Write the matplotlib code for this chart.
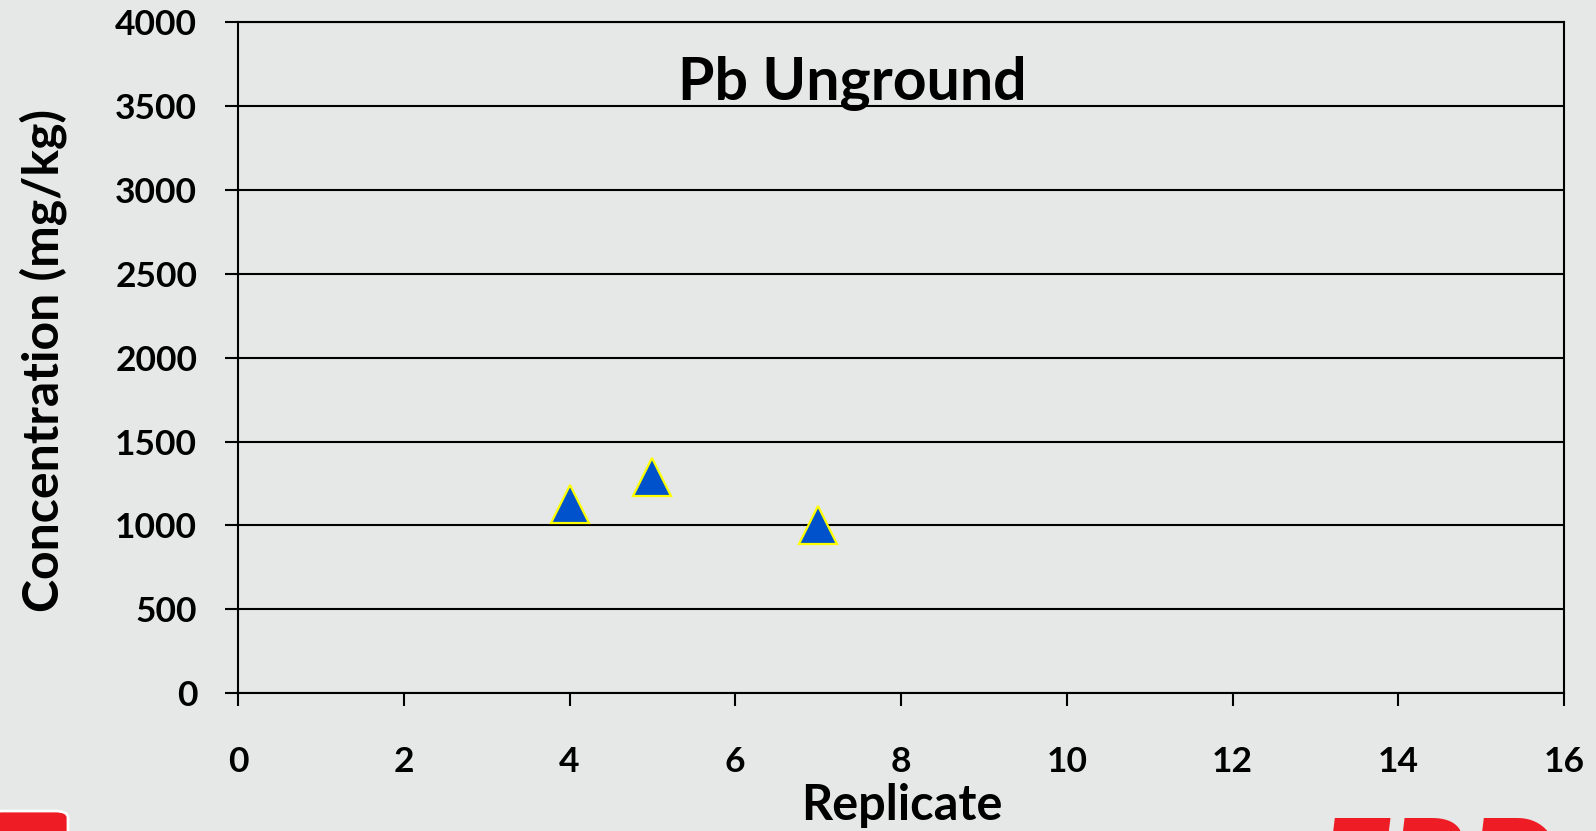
import matplotlib
matplotlib.use("Agg")
import matplotlib.pyplot as plt
from matplotlib.patches import FancyBboxPatch

# Data
replicate = [4, 5, 7]
concentration = [1130, 1290, 1000]
x_ticks = [0, 2, 4, 6, 8, 10, 12, 14, 16]
y_ticks = [0, 500, 1000, 1500, 2000, 2500, 3000, 3500, 4000]
title = "Pb Unground"
x_label = "Replicate"
y_label = "Concentration (mg/kg)"

FONT = ["Lato", "DejaVu Sans"]
plt.rcParams['font.family'] = FONT

BG = "#e5e8e7"
fig = plt.figure(figsize=(15.96, 8.31), dpi=100, facecolor=BG)
ax = fig.add_axes([238/1596, 1-693/831, (1564-238)/1596, (693-22.4)/831])
ax.set_facecolor("none")

ax.plot(replicate, concentration, linestyle="none", marker="^", markersize=27,
        markerfacecolor="#0052cc", markeredgecolor="#ffff00", markeredgewidth=1.6,
        zorder=5, clip_on=False)

ax.set_xlim(0, 16)
ax.set_ylim(0, 4000)
ax.set_xticks(x_ticks)
ax.set_yticks(y_ticks)
ax.set_xticklabels([str(v) for v in x_ticks], fontsize=25.5, fontweight="bold")
ax.set_yticklabels([str(v) for v in y_ticks], fontsize=25.5, fontweight="bold")
ax.tick_params(axis="both", direction="out", length=9.4, width=1.5, color="black")
ax.tick_params(axis="x", pad=29)
ax.tick_params(axis="y", pad=20)
ax.grid(axis="y", color="black", linewidth=1.5)
ax.set_axisbelow(True)
for s in ax.spines.values():
    s.set_color("black")
    s.set_linewidth(1.5)

fig.text(852/1596, 1-100/831, title, fontsize=42.5, fontweight="bold",
         ha="center", va="baseline")
fig.text(902/1596, 1-820/831, x_label, fontsize=35, fontweight="bold",
         ha="center", va="baseline")
fig.text(43/1596, 1-360/831, y_label, fontsize=36, fontweight="bold",
         ha="center", va="center", rotation=90)

# logo fragments at the bottom corners (cut off by the edge, as in the original)
fig.text(1318/1596, 1-914/831, "ERD", fontsize=95, fontweight="bold",
         fontstyle="italic", color="#ee1c25", ha="left", va="baseline")
box = FancyBboxPatch((-10/1596, -20/831), 78/1596, 40/831,
                     boxstyle="round,pad=0,rounding_size=0.008",
                     transform=fig.transFigure, facecolor="#ee1c25",
                     edgecolor="white", linewidth=2)
fig.patches.append(box)

fig.savefig("out.png", dpi=100, facecolor=BG)
